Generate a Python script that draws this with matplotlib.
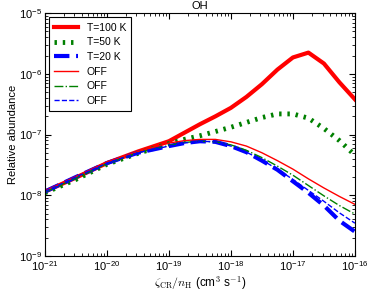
import numpy as np
import matplotlib
matplotlib.use('Agg')
import matplotlib.pyplot as plt

plt.rcParams['mathtext.fontset'] = 'cm'
plt.rcParams['font.family'] = ['Liberation Sans', 'DejaVu Sans']
plt.rcParams['font.size'] = 8

# log10 of zeta_CR / n_H
x_log = [-21, -20.5, -20, -19.5, -19, -18.75, -18.5, -18.25, -18, -17.75,
         -17.5, -17.25, -17, -16.75, -16.5, -16.25, -16]

# log10 of relative abundance
t100 = [-7.94, -7.71, -7.47, -7.28, -7.11, -6.97, -6.83, -6.70, -6.56, -6.38,
        -6.17, -5.93, -5.73, -5.65, -5.83, -6.14, -6.42]
t50 = [-7.96, -7.74, -7.49, -7.31, -7.15, -7.08, -7.02, -6.95, -6.88, -6.80,
       -6.72, -6.66, -6.66, -6.73, -6.90, -7.10, -7.34]
t20 = [-7.94, -7.70, -7.47, -7.30, -7.19, -7.14, -7.11, -7.12, -7.19, -7.29,
       -7.43, -7.58, -7.77, -7.96, -8.17, -8.42, -8.60]
off100 = [-7.93, -7.69, -7.45, -7.28, -7.14, -7.10, -7.08, -7.08, -7.12, -7.19,
          -7.30, -7.43, -7.57, -7.73, -7.88, -8.02, -8.15]
off50 = [-7.95, -7.72, -7.48, -7.30, -7.18, -7.13, -7.11, -7.12, -7.17, -7.26,
         -7.38, -7.52, -7.67, -7.84, -8.01, -8.17, -8.31]
off20 = [-7.94, -7.70, -7.47, -7.30, -7.19, -7.14, -7.11, -7.12, -7.19, -7.29,
         -7.42, -7.57, -7.74, -7.92, -8.10, -8.29, -8.46]

x = 10.0 ** np.array(x_log)

fig = plt.figure(figsize=(3.74, 2.99), dpi=100)
ax = fig.add_axes([0.12, 0.144, 0.829, 0.812])

ax.plot(x, 10.0 ** np.array(t100), color='red', lw=3, label='T=100 K')
ax.plot(x, 10.0 ** np.array(t50), color='green', lw=3.5, linestyle=(0, (0.5, 1.2)),
        label='T=50 K')
ax.plot(x, 10.0 ** np.array(t20), color='blue', lw=3, linestyle='--', label='T=20 K')
ax.plot(x, 10.0 ** np.array(off100), color='red', lw=1, label='OFF')
ax.plot(x, 10.0 ** np.array(off50), color='green', lw=1, linestyle='-.', label='OFF')
ax.plot(x, 10.0 ** np.array(off20), color='blue', lw=1, linestyle='--', label='OFF')

ax.set_xscale('log')
ax.set_yscale('log')
ax.set_xlim(1e-21, 1e-16)
ax.set_ylim(1e-9, 1e-5)
ax.tick_params(which='both', direction='in', top=True, right=True, labelsize=8)
ax.tick_params(which='major', length=4, pad=2)
ax.tick_params(which='minor', length=2)

ax.set_title('OH', fontsize=8, pad=3)
ax.set_xlabel(r'$\zeta_{\rm CR}/n_{\rm H}$ (cm$^3$ s$^{-1}$)', fontsize=8.5, labelpad=1)
ax.set_ylabel('Relative abundance', fontsize=8, labelpad=1)

leg = ax.legend(loc='upper left', fancybox=False, framealpha=1,
                edgecolor='black', fontsize=7.5, handlelength=2.3,
                borderpad=0.5, labelspacing=0.45, borderaxespad=0.4)
leg.get_frame().set_linewidth(0.8)

fig.savefig('out.png', dpi=100)
